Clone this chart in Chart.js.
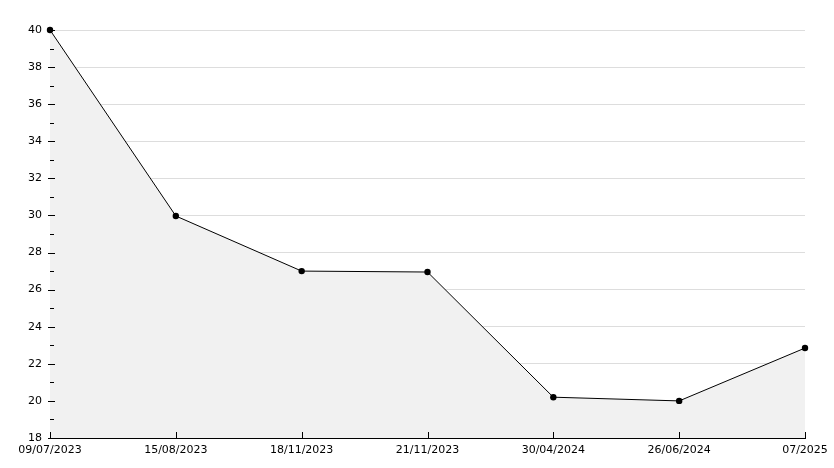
<!DOCTYPE html>
<html>
<head>
<meta charset="utf-8">
<script src="https://cdn.jsdelivr.net/npm/chart.js@4"></script>
<style>
  html, body { margin: 0; padding: 0; background: #fff; }
  #wrap { width: 834px; height: 468px; }
</style>
</head>
<body>
<div id="wrap"><canvas id="grafico" width="834" height="468"></canvas></div>
<script>
const fechas = ['09/07/2023', '15/08/2023', '18/11/2023', '21/11/2023', '30/04/2024', '26/06/2024', '07/2025'];
const valores = [40, 29.97, 27.0, 26.95, 20.2, 20.0, 22.85];
const yMin = 18;
const yMax = 40;
const yPaso = 2;

// marcas de eje hacia dentro (mayores y menores en Y, y marcas en X)
const marcasEjes = {
    id: 'marcasEjes',
    beforeDatasetsDraw(chart) {
        const ctx = chart.ctx;
        const x = chart.scales.x;
        const y = chart.scales.y;
        const area = chart.chartArea;
        ctx.save();
        ctx.strokeStyle = '#000';
        ctx.lineWidth = 1;
        ctx.beginPath();
        for (let v = yMin; v <= yMax; v += yPaso / 2) {
            const py = Math.round(y.getPixelForValue(v)) + 0.5;
            const mayor = (v - yMin) % yPaso === 0;
            ctx.moveTo(area.left - (mayor ? 2 : 0), py);
            ctx.lineTo(area.left + (mayor ? 5 : 4), py);
        }
        ctx.stroke();
        ctx.restore();
    },
    afterDatasetsDraw(chart) {
        const ctx = chart.ctx;
        const x = chart.scales.x;
        const y = chart.scales.y;
        const area = chart.chartArea;
        ctx.save();
        ctx.strokeStyle = '#000';
        ctx.lineWidth = 1;
        ctx.beginPath();
        for (let v = yMin; v <= yMax; v += yPaso / 2) {
            const py = Math.round(y.getPixelForValue(v)) + 0.5;
            const mayor = (v - yMin) % yPaso === 0;
            ctx.moveTo(area.left - (mayor ? 2 : 0), py);
            ctx.lineTo(area.left + (mayor ? 5 : 4), py);
        }
        fechas.forEach((f, i) => {
            const px = Math.round(x.getPixelForValue(i)) + 0.5;
            ctx.moveTo(px, area.bottom);
            ctx.lineTo(px, area.bottom - 6);
        });
        ctx.stroke();
        ctx.restore();
    }
};

new Chart(document.getElementById('grafico'), {
    type: 'line',
    data: {
        labels: fechas,
        datasets: [{
            data: valores,
            borderColor: '#000',
            borderWidth: 1,
            backgroundColor: '#f1f1f1',
            fill: 'start',
            tension: 0,
            clip: false,
            pointRadius: 3.2,
            pointBackgroundColor: '#000',
            pointBorderColor: '#000',
            pointBorderWidth: 0
        }]
    },
    options: {
        responsive: false,
        animation: false,
        devicePixelRatio: 1,
        layout: { padding: { top: 30, right: 29, bottom: 0, left: 0 } },
        plugins: { legend: { display: false }, tooltip: { enabled: false } },
        scales: {
            x: {
                type: 'category',
                offset: false,
                grid: { display: false, drawTicks: false },
                border: { color: '#000', width: 1 },
                ticks: {
                    color: '#000',
                    font: { family: 'DejaVu Sans', size: 11 },
                    padding: 6,
                    maxRotation: 0,
                    autoSkip: false
                },
                afterFit: (s) => { s.height = 30; }
            },
            y: {
                min: yMin,
                max: yMax,
                grid: { color: '#dddddd', drawTicks: false },
                border: { color: '#000', width: 1 },
                ticks: {
                    stepSize: yPaso,
                    color: '#000',
                    font: { family: 'DejaVu Sans', size: 11 },
                    padding: 8
                },
                afterFit: (s) => { s.width = 50; }
            }
        }
    },
    plugins: [marcasEjes]
});
</script>
</body>
</html>
